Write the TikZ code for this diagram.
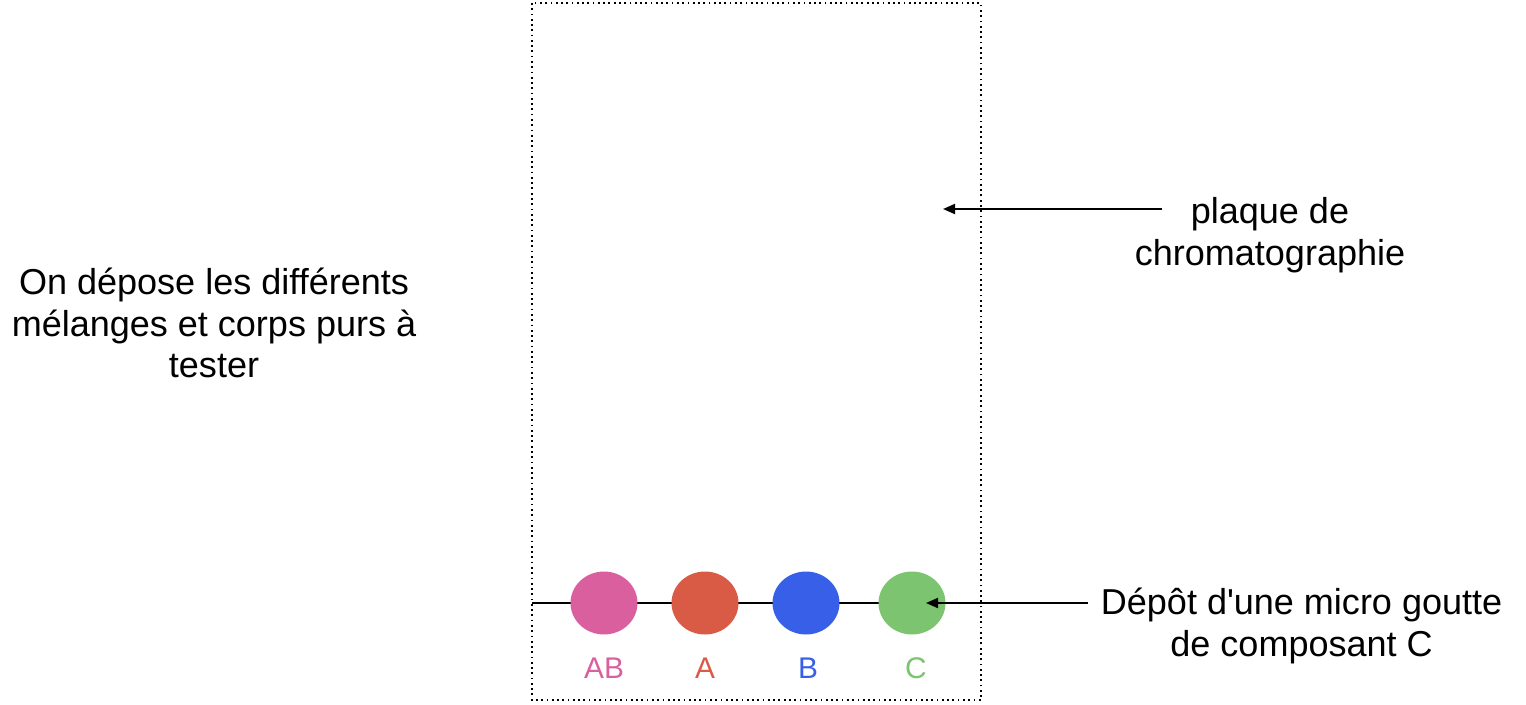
\documentclass[tikz,border=0pt]{standalone}
\usepackage{fontspec}
\setmainfont{Liberation Sans}
\usetikzlibrary{shapes.geometric, arrows.meta, backgrounds}

\definecolor{spotAB}{HTML}{DA5F9E}
\definecolor{spotA}{HTML}{D95B45}
\definecolor{spotB}{HTML}{385FE8}
\definecolor{spotC}{HTML}{7DC470}

\tikzset{
  spot/.style={ellipse, fill=#1, draw=none, inner sep=0pt,
               minimum width=1.34cm, minimum height=1.26cm},
  spotlabel/.style={text=#1, font=\fontsize{17}{20}\selectfont},
  note/.style={align=center, font=\fontsize{20.5}{23.8}\selectfont},
  pointer/.style={-{Triangle[length=2.4mm, width=2mm]}}
}

\begin{document}
\begin{tikzpicture}[x=0.02cm, y=-0.02cm, line width=1.1pt]

  \useasboundingbox (0, 0) rectangle (1526, 704);

  \draw[dotted, line width=1pt] (532, 3) rectangle (981, 700);

  \coordinate (base) at (532, 603);

  \foreach \x/\lx/\name in {604/604/AB, 705/705/A, 806/808/B, 912/916/C} {
    \node[spot=spot\name] (spot\name) at (\x, 603) {};
    \node[spotlabel=spot\name] (label\name) at (\lx, 668) {\name};
  }

  \begin{scope}[on background layer]
    \draw[line width=1.1pt] (base) -- (spotC.center);
  \end{scope}

  \node[note] (plaque) at (1270, 235) {plaque de\\chromatographie};
  \coordinate (plaqueTail) at (1162, 209);
  \coordinate (plaqueTip) at (943, 209);
  \draw[pointer] (plaqueTail) -- (plaqueTip);

  \node[note, anchor=west, inner sep=12pt*0.567] (depot) at (1088, 626) {D\'ep\^ot d\textquotesingle une micro goutte\\de composant C};
  \coordinate (depotTip) at (926, 603);
  \draw[pointer] (depot.west |- depotTip) -- (depotTip);

  \node[note] (consigne) at (214, 323) {On d\'epose les diff\'erents\\m\'elanges et corps purs \`a\\tester};

\end{tikzpicture}
\end{document}
